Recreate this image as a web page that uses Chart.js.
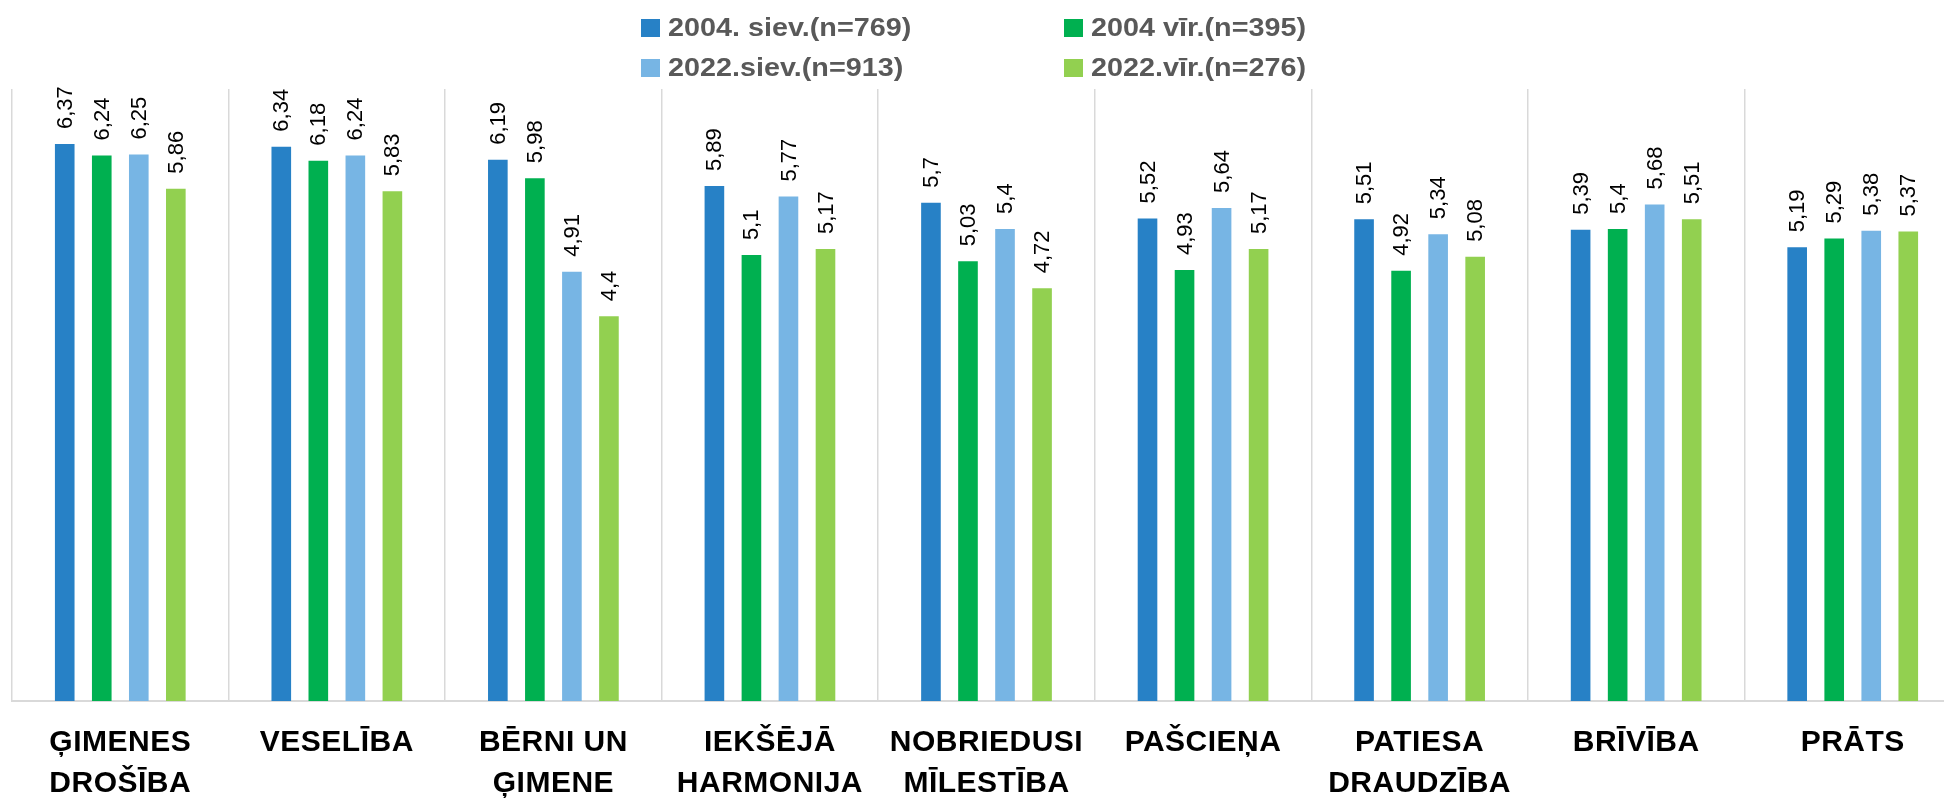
<!DOCTYPE html>
<html>
<head>
<meta charset="utf-8">
<script src="https://cdn.jsdelivr.net/npm/chart.js@4.4.1/dist/chart.umd.min.js"></script>
<style>
  html, body { margin: 0; padding: 0; overflow: hidden; background: #fff; }
</style>
</head>
<body>
<canvas id="myChart" width="1966" height="825" style="width:1966px;height:825px;display:block"></canvas>
<script>
// ↓ Dati ↓

const kategorijas = [
    ['ĢIMENES', 'DROŠĪBA'],
    'VESELĪBA',
    ['BĒRNI UN', 'ĢIMENE'],
    ['IEKŠĒJĀ', 'HARMONIJA'],
    ['NOBRIEDUSI', 'MĪLESTĪBA'],
    'PAŠCIEŅA',
    ['PATIESA', 'DRAUDZĪBA'],
    'BRĪVĪBA',
    'PRĀTS'
];

const siev2004 = [6.37, 6.34, 6.19, 5.89, 5.7, 5.52, 5.51, 5.39, 5.19];
const vir2004 = [6.24, 6.18, 5.98, 5.1, 5.03, 4.93, 4.92, 5.4, 5.29];
const siev2022 = [6.25, 6.24, 4.91, 5.77, 5.4, 5.64, 5.34, 5.68, 5.38];
const vir2022 = [5.86, 5.83, 4.4, 5.17, 4.72, 5.17, 5.08, 5.51, 5.37];

const ctx = document.getElementById('myChart');

// vērtības virs stabiņiem (pagrieztas)
const vertibas = {
    id: 'vertibas',
    afterDatasetsDraw(chart) {
        const c = chart.ctx;
        c.save();
        c.letterSpacing = '0px';
        c.font = '22px "Liberation Sans", Arial, sans-serif';
        c.fillStyle = '#000';
        c.textAlign = 'left';
        c.textBaseline = 'middle';
        chart.data.datasets.forEach((ds, i) => {
            chart.getDatasetMeta(i).data.forEach((bar, j) => {
                c.save();
                c.translate(bar.x + 1, bar.y - 15);
                c.rotate(-Math.PI / 2);
                c.fillText(String(ds.data[j]).replace('.', ','), 0, 0);
                c.restore();
            });
        });
        c.restore();
    }
};

// leģenda 2 x 2
const legenda = {
    id: 'legenda',
    afterDraw(chart) {
        const c = chart.ctx;
        const kol = [641, 1064];
        const rind = [28, 68];
        c.save();
        c.letterSpacing = '0px';
        c.font = 'bold 25px "Liberation Sans", Arial, sans-serif';
        c.textAlign = 'left';
        c.textBaseline = 'middle';
        chart.data.datasets.forEach((ds, i) => {
            const x = kol[i % 2];
            const y = rind[Math.floor(i / 2)];
            c.fillStyle = ds.backgroundColor;
            c.fillRect(x, y - 9, 19, 18);
            c.fillStyle = '#595959';
            c.save();
            c.translate(x + 27, y + 1);
            c.scale(1.15, 1);
            c.fillText(ds.label, 0, 0);
            c.restore();
        });
        c.restore();
    }
};

// burtu atstarpe kategoriju nosaukumiem
const atstarpes = {
    id: 'atstarpes',
    beforeDraw(chart) {
        chart.ctx.letterSpacing = '0.5px';
    }
};

new Chart(ctx, {
    type: 'bar',
    data: {
        labels: kategorijas,
        datasets: [
            { label: '2004. siev.(n=769)', data: siev2004, backgroundColor: '#2781C6' },
            { label: '2004 vīr.(n=395)', data: vir2004, backgroundColor: '#00B050' },
            { label: '2022.siev.(n=913)', data: siev2022, backgroundColor: '#77B5E4' },
            { label: '2022.vīr.(n=276)', data: vir2022, backgroundColor: '#92D050' }
        ]
    },
    options: {
        responsive: false,
        animation: false,
        categoryPercentage: 0.684,
        barPercentage: 0.53,
        layout: {
            padding: { top: 89, left: 12, right: 5, bottom: 0 }
        },
        plugins: {
            legend: { display: false },
            tooltip: { enabled: false }
        },
        scales: {
            y: {
                display: false,
                min: 0,
                max: 7
            },
            x: {
                grid: {
                    color: '#D9D9D9',
                    lineWidth: 1.5,
                    drawTicks: false
                },
                border: {
                    color: '#D9D9D9',
                    width: 2
                },
                ticks: {
                    color: '#000',
                    padding: 21,
                    maxRotation: 0,
                    autoSkip: false,
                    font: {
                        family: '"Liberation Sans", Arial, sans-serif',
                        size: 30,
                        weight: 'bold',
                        lineHeight: '41px'
                    }
                }
            }
        }
    },
    plugins: [atstarpes, vertibas, legenda]
});
</script>
</body>
</html>
